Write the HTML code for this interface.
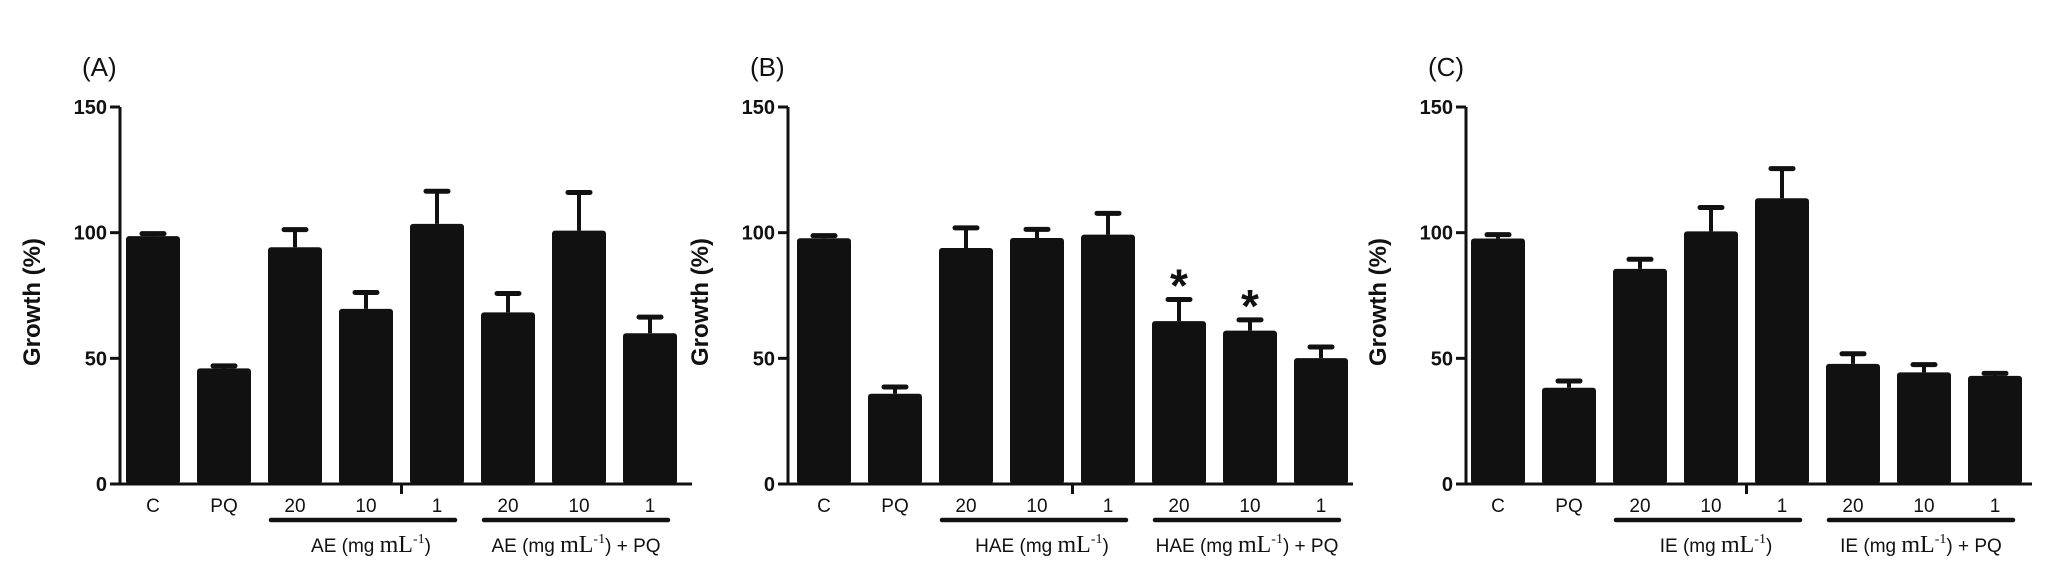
<!DOCTYPE html>
<html><head><meta charset="utf-8">
<style>
html,body{margin:0;padding:0;background:#fff;}
svg{display:block;font-family:"Liberation Sans",Arial,sans-serif;}
</style></head>
<body>
<svg id="fig" width="2064" height="574" viewBox="0 0 2064 574"></svg>
<script>
const categories = ["C","PQ","20","10","1","20","10","1"];
const panelLetters = ["(A)","(B)","(C)"];
const extractNames = ["AE","HAE","IE"];
const valuesA = [98.6, 46, 94.2, 69.7, 103.5, 68.3, 100.8, 60];
const errorsA = [1, 1, 7, 6.5, 13, 7.5, 15.2, 6.4];
const valuesB = [97.8, 35.9, 93.9, 97.9, 99.2, 64.8, 61, 50.1];
const errorsB = [1, 2.7, 8, 3.4, 8.5, 8.6, 4.3, 4.4];
const valuesC = [97.7, 38.3, 85.6, 100.5, 113.7, 47.8, 44.4, 43];
const errorsC = [1.5, 2.7, 3.8, 9.5, 11.8, 4, 3.1, 1];
const starsB = [false,false,false,false,false,true,true,false];
const yTicks = [0, 50, 100, 150];

const NS = "http://www.w3.org/2000/svg";
const svg = document.getElementById("fig");
function mk(tag, attrs, parent){
  const e = document.createElementNS(NS, tag);
  for (const k in attrs) e.setAttribute(k, attrs[k]);
  (parent||svg).appendChild(e);
  return e;
}
const Y0 = 484, Y150 = 107;
function yScale(v){ return Y0 - (Y0 - Y150) * v / 150; }

const panels = [
  {axisX:120, first:153, end:692, vals:valuesA, errs:errorsA, stars:null},
  {axisX:788, first:824, end:1353, vals:valuesB, errs:errorsB, stars:starsB},
  {axisX:1466, first:1498, end:2032, vals:valuesC, errs:errorsC, stars:null}
];
const step = 71, bw = 54;
function xScale(p, i){ return p.first + i * step; }

panels.forEach((p, pi) => {
  const g = mk("g", {});
  
  

  const lt = mk("text", {x:p.axisX-38, y:76, "font-size":26, fill:"#111"}, g);
  lt.textContent = panelLetters[pi];
  
  

  const yt = mk("text", {x:0, y:0, "font-size":24, "font-weight":"bold", fill:"#111", "text-anchor":"middle",
    transform:"translate(" + (p.axisX-80) + ",302) rotate(-90)"}, g);
  yt.textContent = "Growth (%)";
  
  

  p.vals.forEach((v, i) => {
    const cx = xScale(p, i);
    const top = yScale(v), etop = yScale(v + p.errs[i]);
    const el = mk("line", {x1:cx, x2:cx, y1:top, y2:etop, stroke:"#111", "stroke-width":4}, g);
    
    
    const cap = mk("line", {x1:cx-11, x2:cx+11, y1:etop, y2:etop, stroke:"#111", "stroke-width":5, "stroke-linecap":"round"}, g);
    
    
    const r = mk("rect", {x:cx-bw/2, y:top, width:bw, height:Y0-top, rx:3, fill:"#111"}, g);
    
    
    if (p.stars && p.stars[i]) {
      const s = mk("text", {x:cx, y:etop+2, "font-size":46, "font-weight":"bold", "text-anchor":"middle", fill:"#111"}, g);
      s.textContent = "*";
      
      
    }
    const xl = mk("text", {x:cx, y:512, "font-size":19, "text-anchor":"middle", fill:"#111"}, g);
    xl.textContent = categories[i];
    
    
  });

  const ya = mk("line", {x1:p.axisX, x2:p.axisX, y1:Y150, y2:Y0+1.5, stroke:"#111", "stroke-width":3}, g);
  
  
  const xa = mk("line", {x1:p.axisX-1.5, x2:p.end, y1:Y0, y2:Y0, stroke:"#111", "stroke-width":3}, g);
  
  
  yTicks.forEach(t => {
    const y = yScale(t);
    const tk = mk("line", {x1:p.axisX-10, x2:p.axisX, y1:y, y2:y, stroke:"#111", "stroke-width":3}, g);
    
    
    const tl = mk("text", {x:p.axisX-13, y:y+7, "font-size":20, "font-weight":"bold", "text-anchor":"end", fill:"#111"}, g);
    tl.textContent = t;
    
    
  });
  const midTick = (xScale(p,3) + xScale(p,4)) / 2;
  const mt = mk("line", {x1:midTick, x2:midTick, y1:Y0, y2:Y0+10, stroke:"#111", "stroke-width":3}, g);
  
  

  [[2,4,""],[5,7," + PQ"]].forEach(([a,b,suf]) => {
    const x1 = xScale(p,a) - 24, x2 = xScale(p,b) + 18;
    const ul = mk("line", {x1:x1, x2:x2, y1:520, y2:520, stroke:"#111", "stroke-width":4.5, "stroke-linecap":"round"}, g);
    
    
    const gl = mk("text", {x:(x1+x2)/2 + (suf ? 0 : 8), y:552, "font-size":19, "text-anchor":"middle", fill:"#111"}, g);
    
    
    const t1 = mk("tspan", {}, gl); t1.textContent = extractNames[pi] + " (mg ";
    const t2 = mk("tspan", {"font-family":"Liberation Serif, serif", "font-size":24}, gl); t2.textContent = "mL";
    const t3 = mk("tspan", {"font-family":"Liberation Serif, serif", "font-size":14, dy:-9}, gl); t3.textContent = "-1";
    const t4 = mk("tspan", {dy:9}, gl); t4.textContent = ")" + suf;
  });
});
</script>
</body></html>
